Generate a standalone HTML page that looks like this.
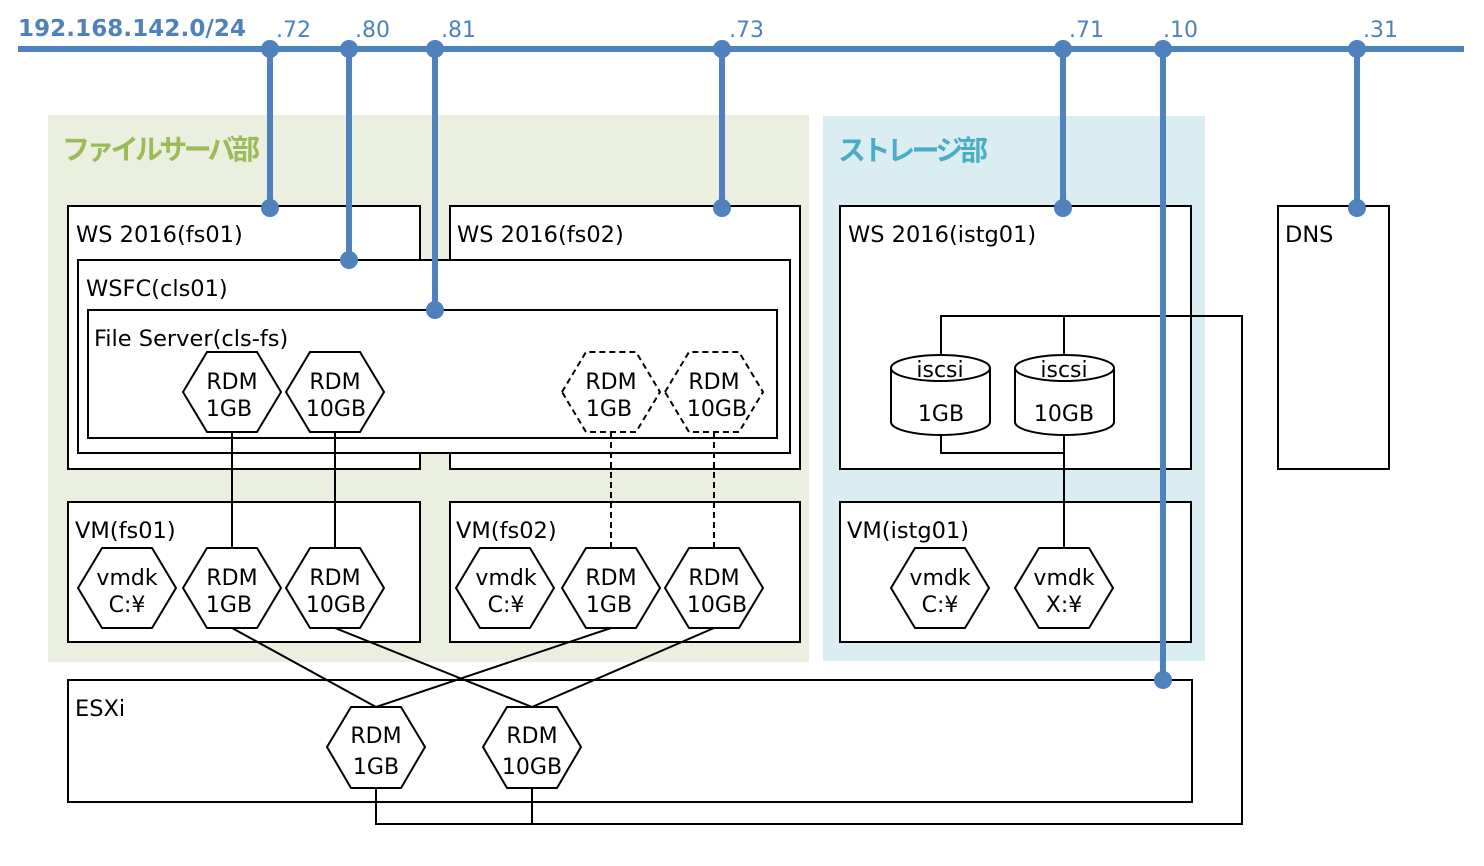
<!DOCTYPE html>
<html><head><meta charset="utf-8"><style>html,body{margin:0;padding:0;background:#fff}svg{display:block}text{font-family:"DejaVu Sans","Liberation Sans","Noto Sans CJK JP",sans-serif}</style></head><body>
<svg width="1484" height="866" viewBox="0 0 1484 866" xmlns="http://www.w3.org/2000/svg">
<rect x="48" y="115" width="761" height="547" fill="#EBEFDF"/>
<rect x="823" y="116" width="382" height="545" fill="#DAEDF3"/>
<text x="62" y="159" font-size="28" font-weight="bold" fill="#9BBB59" font-family="'Noto Sans CJK JP',sans-serif" textLength="198">ファイルサーバ部</text>
<text x="838" y="160" font-size="28" font-weight="bold" fill="#4BACC6" font-family="'Noto Sans CJK JP',sans-serif" textLength="150">ストレージ部</text>
<g fill="#fff" stroke="#000" stroke-width="2">
<rect x="68" y="206" width="352" height="263"/>
<rect x="450" y="206" width="350" height="263"/>
<rect x="78" y="260" width="712" height="193"/>
<rect x="88" y="310" width="689" height="128"/>
<rect x="840" y="206" width="351" height="263"/>
<rect x="1278" y="206" width="111" height="263"/>
<rect x="68" y="502" width="352" height="140"/>
<rect x="450" y="502" width="350" height="140"/>
<rect x="840" y="502" width="351" height="140"/>
<rect x="68" y="680" width="1124" height="122"/>
</g>
<g fill="none" stroke="#000" stroke-width="2">
<path d="M232 432V548M335 432V548"/>
<path d="M611 432V548M714 432V548" stroke-dasharray="6,4"/>
<path d="M232 628L376 707M335 628L532 707M611 628L376 707M714 628L532 707"/>
<path d="M376 788V824H1242V316H941V356M1064 316V356M941 434V453H1064M1064 434V548M532 788V824"/>
</g>
<g font-size="22.5" fill="#000">
<text x="76" y="242">WS 2016(fs01)</text>
<text x="457" y="242">WS 2016(fs02)</text>
<text x="86" y="296">WSFC(cls01)</text>
<text x="94" y="346">File Server(cls-fs)</text>
<text x="848" y="242">WS 2016(istg01)</text>
<text x="1285" y="242">DNS</text>
<text x="75" y="538">VM(fs01)</text>
<text x="456" y="538">VM(fs02)</text>
<text x="847" y="538">VM(istg01)</text>
<text x="75" y="716">ESXi</text>
</g>
<g fill="#fff" stroke="#000" stroke-width="2">
<polygon points="183,392 207,352 257,352 281,392 257,432 207,432"/>
<polygon points="286,392 310,352 360,352 384,392 360,432 310,432"/>
<polygon points="562,392 586,352 636,352 660,392 636,432 586,432" stroke-dasharray="6,4"/>
<polygon points="665,392 689,352 739,352 763,392 739,432 689,432" stroke-dasharray="6,4"/>
<polygon points="78,588 102,548 152,548 176,588 152,628 102,628"/>
<polygon points="183,588 207,548 257,548 281,588 257,628 207,628"/>
<polygon points="286,588 310,548 360,548 384,588 360,628 310,628"/>
<polygon points="456,588 480,548 530,548 554,588 530,628 480,628"/>
<polygon points="562,588 586,548 636,548 660,588 636,628 586,628"/>
<polygon points="665,588 689,548 739,548 763,588 739,628 689,628"/>
<polygon points="891,588 915,548 965,548 989,588 965,628 915,628"/>
<polygon points="1015,588 1039,548 1089,548 1113,588 1089,628 1039,628"/>
<polygon points="327,747 351,707 401,707 425,747 401,788 351,788"/>
<polygon points="483,747 507,707 557,707 581,747 557,788 507,788"/>
<path d="M891 368V422A49.5 13 0 0 0 990 422V368A49.5 13 0 0 0 891 368A49.5 13 0 0 0 990 368"/>
<path d="M1015 368V422A49.5 13 0 0 0 1114 422V368A49.5 13 0 0 0 1015 368A49.5 13 0 0 0 1114 368"/>
</g>
<g font-size="22" fill="#000" text-anchor="middle">
<text x="232" y="389">RDM</text><text x="229" y="416">1GB</text>
<text x="335" y="389">RDM</text><text x="336" y="416">10GB</text>
<text x="611" y="389">RDM</text><text x="609" y="416">1GB</text>
<text x="714" y="389">RDM</text><text x="717" y="416">10GB</text>
<text x="127" y="585">vmdk</text><text x="127" y="612">C:¥</text>
<text x="232" y="585">RDM</text><text x="229" y="612">1GB</text>
<text x="335" y="585">RDM</text><text x="336" y="612">10GB</text>
<text x="506" y="585">vmdk</text><text x="506" y="612">C:¥</text>
<text x="611" y="585">RDM</text><text x="609" y="612">1GB</text>
<text x="714" y="585">RDM</text><text x="717" y="612">10GB</text>
<text x="940" y="585">vmdk</text><text x="940" y="612">C:¥</text>
<text x="1064" y="585">vmdk</text><text x="1064" y="612">X:¥</text>
<text x="376" y="743">RDM</text><text x="376" y="774">1GB</text>
<text x="532" y="743">RDM</text><text x="532" y="774">10GB</text>
<text x="940" y="377">iscsi</text><text x="941" y="421">1GB</text>
<text x="1064" y="377">iscsi</text><text x="1064" y="421">10GB</text>
</g>
<g stroke="#4F81BD" stroke-width="6" fill="none">
<path d="M18 49H1464"/>
<path d="M270 49V208M349 49V260M435 49V310M722 49V208M1063 49V208M1163 49V680M1357 49V208"/>
</g>
<g fill="#4F81BD">
<circle cx="270" cy="49" r="9"/><circle cx="349" cy="49" r="9"/><circle cx="435" cy="49" r="9"/><circle cx="722" cy="49" r="9"/><circle cx="1063" cy="49" r="9"/><circle cx="1163" cy="49" r="9"/><circle cx="1357" cy="49" r="9"/>
<circle cx="270" cy="208" r="9"/><circle cx="349" cy="260" r="9"/><circle cx="435" cy="310" r="9"/><circle cx="722" cy="208" r="9"/><circle cx="1063" cy="208" r="9"/><circle cx="1163" cy="680" r="9"/><circle cx="1357" cy="208" r="9"/>
</g>
<text x="18" y="36" font-size="23" font-weight="bold" fill="#4F81BD" textLength="228">192.168.142.0/24</text>
<g font-size="22" fill="#4F81BD">
<text x="276" y="37">.72</text><text x="355" y="37">.80</text><text x="441" y="37">.81</text><text x="729" y="37">.73</text><text x="1069" y="37">.71</text><text x="1163" y="37">.10</text><text x="1363" y="37">.31</text>
</g>
</svg>
</body></html>
